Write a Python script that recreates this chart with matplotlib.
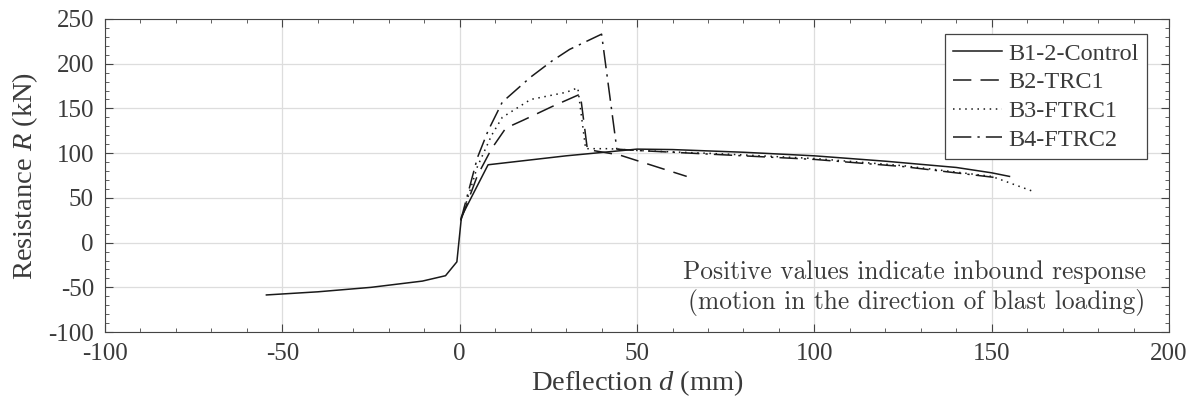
import matplotlib
matplotlib.use("Agg")
import matplotlib.pyplot as plt
from matplotlib.ticker import MultipleLocator

# --- data (deflection mm, resistance kN) ---
ctrl_d = [-54.5, -40, -25, -10.5, -4, -0.8, 0.5, 8, 30, 50, 60, 80, 100, 120, 140, 150, 155]
ctrl_r = [-58.5, -55, -50, -43, -37, -21.5, 29, 87, 97, 104.5, 104, 101, 97, 91, 84, 78, 74]

trc1_d = [0.3, 5, 9, 13, 18, 26, 34, 36, 45, 64]
trc1_r = [25, 75, 105, 128, 137, 152, 166, 104, 98, 74]

ftrc1_d = [0.3, 5, 9, 12, 20, 30, 33.3, 35.5, 42, 50, 75, 100, 125, 150, 161.5]
ftrc1_r = [25, 85, 120, 140, 160, 168, 173, 105, 105, 103, 99, 94, 86, 74, 57.5]

ftrc2_d = [0.3, 5, 8, 12, 20, 26, 31, 40, 44.3, 50, 75, 100, 125, 150.5]
ftrc2_r = [25, 95, 125, 157, 185, 203, 216, 233, 104.5, 103, 98, 93, 85, 73]

labels = ["B1-2-Control", "B2-TRC1", "B3-FTRC1", "B4-FTRC2"]

plt.rcParams['font.family'] = 'Liberation Serif'
plt.rcParams['mathtext.fontset'] = 'custom'
plt.rcParams['mathtext.rm'] = 'Liberation Serif'
plt.rcParams['mathtext.it'] = 'Liberation Serif:italic'
plt.rcParams['axes.unicode_minus'] = False

txt = '#3a3a3a'
fig, ax = plt.subplots(figsize=(11.96, 4.12), dpi=100)
fig.subplots_adjust(left=0.0878, right=0.9775, top=0.954, bottom=0.194)

ax.plot(ctrl_d, ctrl_r, color='#1a1a1a', lw=1.1, ls='-', label=labels[0])
ax.plot(trc1_d, trc1_r, color='#1a1a1a', lw=1.1, ls=(0, (12, 6)), label=labels[1])
ax.plot(ftrc1_d, ftrc1_r, color='#1a1a1a', lw=1.1, ls=(0, (1, 3)), label=labels[2])
ax.plot(ftrc2_d, ftrc2_r, color='#1a1a1a', lw=1.1, ls=(0, (12, 4, 1.5, 4)), label=labels[3])

ax.set_xlim(-100, 200)
ax.set_ylim(-100, 250)
ax.xaxis.set_major_locator(MultipleLocator(50))
ax.xaxis.set_minor_locator(MultipleLocator(10))
ax.yaxis.set_major_locator(MultipleLocator(50))
ax.yaxis.set_minor_locator(MultipleLocator(10))
ax.tick_params(which='both', direction='in', top=True, right=True, color='#444444',
               labelsize=18, labelcolor=txt, pad=8)
ax.tick_params(which='major', length=6)
ax.tick_params(which='minor', length=3)
ax.grid(True, which='major', color='#dddddd', lw=0.9)
ax.set_axisbelow(True)
for s in ax.spines.values():
    s.set_color('#444444')

ax.set_xlabel("Deflection $\\mathit{d}$ (mm)", fontsize=20.5, color=txt, labelpad=2)
ax.set_ylabel("Resistance $\\mathit{R}$ (kN)", fontsize=20.5, color=txt, labelpad=6)

leg = ax.legend(loc='upper right', fontsize=17.5, fancybox=False, edgecolor='#444444',
                framealpha=1, handlelength=2.0, handletextpad=0.25, borderpad=0.35,
                labelspacing=0.28, borderaxespad=0, bbox_to_anchor=(0.979, 0.952))
leg.get_frame().set_linewidth(0.9)
for t in leg.get_texts():
    t.set_color(txt)

ax.text(0.978, 0.05, "Positive values indicate inbound response\n(motion in the direction of blast loading)",
        transform=ax.transAxes, ha='right', va='bottom', fontsize=18.3, color=txt,
        linespacing=1.28, family='cmr10')

plt.savefig("out.png", dpi=100)
